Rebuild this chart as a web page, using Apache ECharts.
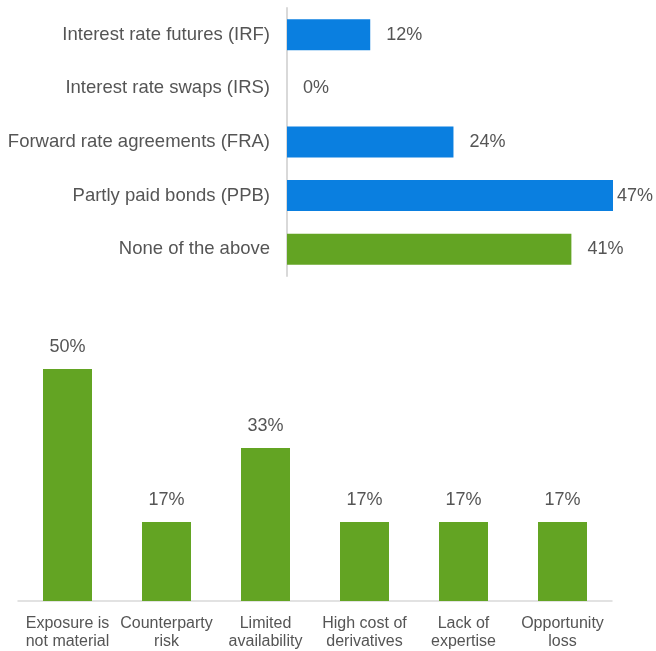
<!DOCTYPE html>
<html><head><meta charset="utf-8">
<script src="https://cdn.jsdelivr.net/npm/echarts@6/dist/echarts.min.js"></script>
<style>html,body{margin:0;padding:0;background:#fff}#c{width:656px;height:651px}</style>
</head><body><div id="c"></div>
<script>
const topCategories = ['Interest rate futures (IRF)','Interest rate swaps (IRS)','Forward rate agreements (FRA)','Partly paid bonds (PPB)','None of the above'];
const topValues = [12, 0, 24, 47, 41];
const topColors = ['#0a7fe0','#0a7fe0','#0a7fe0','#0a7fe0','#63a423'];
const bottomCategories = ['Exposure is\nnot material','Counterparty\nrisk','Limited\navailability','High cost of\nderivatives','Lack of\nexpertise','Opportunity\nloss'];
const bottomValues = [50, 17, 33, 17, 17, 17];

const textColor = '#555555';
const font = 'Liberation Sans, Arial, sans-serif';
const chart = echarts.init(document.getElementById('c'), null, {renderer:'canvas'});
chart.setOption({
  animation:false,
  grid:[
    {left:287, right:43, top:8, height:268},
    {left:18, right:44, top:369, height:232}
  ],
  xAxis:[
    {gridIndex:0, type:'value', min:0, max:47, show:false},
    {gridIndex:1, type:'category', data:bottomCategories,
     axisLine:{lineStyle:{color:'#d9d9d9', width:1.5}}, axisTick:{show:false},
     axisLabel:{color:textColor, fontFamily:font, fontSize:16, lineHeight:18, margin:14, interval:0}}
  ],
  yAxis:[
    {gridIndex:0, type:'category', data:topCategories, inverse:true,
     axisLine:{lineStyle:{color:'#d9d9d9', width:2}}, axisTick:{show:false},
     axisLabel:{color:textColor, fontFamily:font, fontSize:18.5, margin:17}},
    {gridIndex:1, type:'value', min:0, max:50, show:false}
  ],
  series:[
    {type:'bar', xAxisIndex:0, yAxisIndex:0, barWidth:31,
     data: topValues.map((v,i)=>({value:v, itemStyle:{color:topColors[i]},
       label: i===3 ? {distance:4} : {}})),
     label:{show:true, position:'right', distance:16, formatter:'{c}%', color:textColor, fontFamily:font, fontSize:18}},
    {type:'bar', xAxisIndex:1, yAxisIndex:1, barWidth:49,
     data: bottomValues, itemStyle:{color:'#63a423'},
     label:{show:true, position:'top', distance:13, formatter:'{c}%', color:textColor, fontFamily:font, fontSize:18}}
  ]
});
</script></body></html>
